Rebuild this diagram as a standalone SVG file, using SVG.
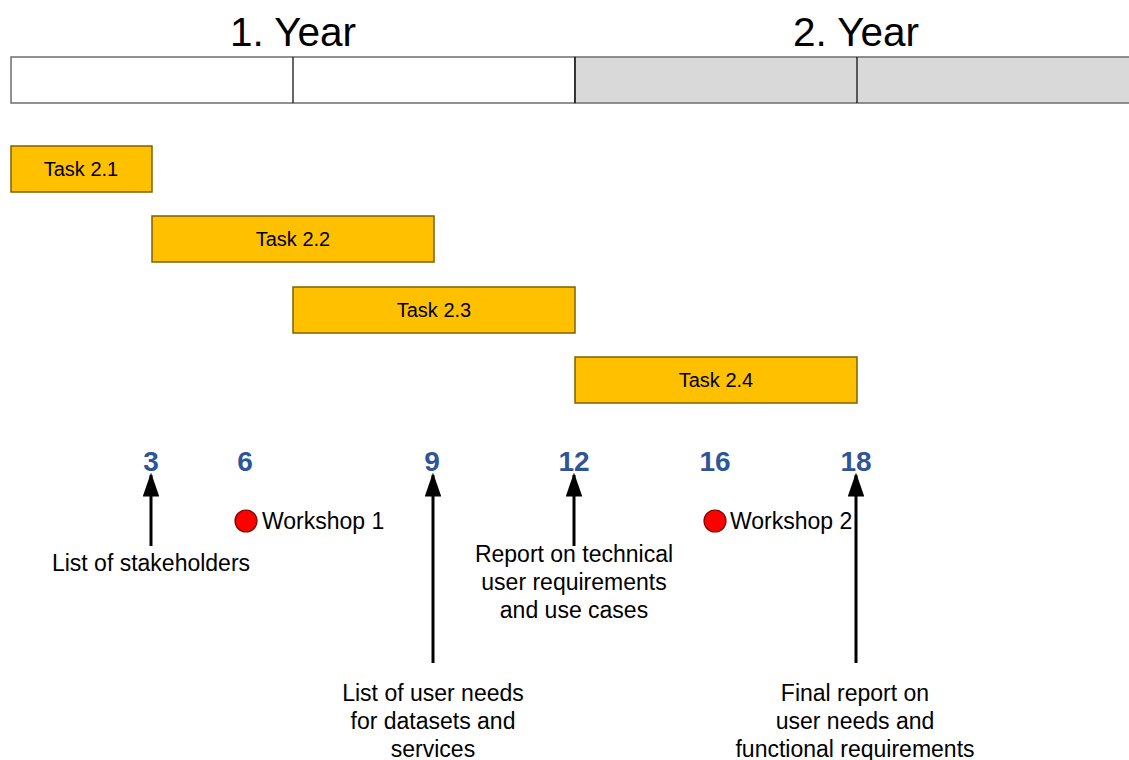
<svg xmlns="http://www.w3.org/2000/svg" width="1129" height="760" viewBox="0 0 1129 760">
<defs>
<style>
.t{font-family:"Liberation Sans",Arial,sans-serif;fill:#000}
.yr{font-size:40.5px;text-anchor:middle}
.task rect{fill:#ffc000;stroke:#7f6000;stroke-width:1.5}
.task text{font-size:20px;text-anchor:middle}
.num{font-family:"Liberation Sans",Arial,sans-serif;font-weight:bold;font-size:28px;fill:#2f5597;text-anchor:middle}
.lbl{font-size:23px;text-anchor:middle}
.ws{font-size:23px}
.conn line{stroke:#000;stroke-width:3;marker-end:url(#ah)}
.dot{fill:#ff0000;stroke:#7f0000;stroke-width:1.2}
</style>
<marker id="ah" viewBox="0 0 10 10" refX="9" refY="5" markerWidth="8" markerHeight="5.5" orient="auto" markerUnits="strokeWidth" preserveAspectRatio="none">
<path d="M0,0 L10,5 L0,10 Z" fill="#000"/>
</marker>
</defs>
<rect width="1129" height="760" fill="#fff"/>
<g id="years">
<text class="t yr" x="293" y="46">1. Year</text>
<text class="t yr" x="856" y="46">2. Year</text>
</g>
<g id="timebar">
<rect x="11" y="57" width="564" height="46" fill="#fff" stroke="#6d6d6d" stroke-width="1.5"/>
<rect x="575" y="57" width="560" height="46" fill="#d9d9d9" stroke="#6d6d6d" stroke-width="1.5"/>
<line x1="293" y1="57" x2="293" y2="103" stroke="#000" stroke-width="1.2"/>
<line x1="575" y1="57" x2="575" y2="103" stroke="#000" stroke-width="1.2"/>
<line x1="857" y1="57" x2="857" y2="103" stroke="#000" stroke-width="1.2"/>
</g>
<g id="task21" class="task"><rect x="11" y="146" width="141" height="46"/><text class="t" x="81" y="176">Task 2.1</text></g>
<g id="task22" class="task"><rect x="152" y="216" width="282" height="46"/><text class="t" x="293" y="246">Task 2.2</text></g>
<g id="task23" class="task"><rect x="293" y="287" width="282" height="46"/><text class="t" x="434" y="317">Task 2.3</text></g>
<g id="task24" class="task"><rect x="575" y="357" width="282" height="46"/><text class="t" x="716" y="387">Task 2.4</text></g>
<g id="months">
<text class="num" x="151" y="471">3</text>
<text class="num" x="245" y="471">6</text>
<text class="num" x="432" y="471">9</text>
<text class="num" x="574" y="471">12</text>
<text class="num" x="715" y="471">16</text>
<text class="num" x="856" y="471">18</text>
</g>
<g id="connectors" class="conn">
<line x1="151" y1="546" x2="151" y2="475"/>
<line x1="433" y1="663" x2="433" y2="475"/>
<line x1="574" y1="546" x2="574" y2="475"/>
<line x1="856" y1="663" x2="856" y2="475"/>
</g>
<g id="workshop1"><circle class="dot" cx="246" cy="521" r="11"/><text class="t ws" x="262" y="529">Workshop 1</text></g>
<g id="workshop2"><circle class="dot" cx="715" cy="521" r="11"/><text class="t ws" x="730" y="529">Workshop 2</text></g>
<g id="d-stakeholders"><text class="t lbl" x="151" y="571">List of stakeholders</text></g>
<g id="d-report">
<text class="t lbl" x="574" y="562">Report on technical</text>
<text class="t lbl" x="574" y="590">user requirements</text>
<text class="t lbl" x="574" y="618">and use cases</text>
</g>
<g id="d-userneeds">
<text class="t lbl" x="433" y="701">List of user needs</text>
<text class="t lbl" x="433" y="729">for datasets and</text>
<text class="t lbl" x="433" y="757">services</text>
</g>
<g id="d-final">
<text class="t lbl" x="855" y="701">Final report on</text>
<text class="t lbl" x="855" y="729">user needs and</text>
<text class="t lbl" x="855" y="757">functional requirements</text>
</g>
</svg>
